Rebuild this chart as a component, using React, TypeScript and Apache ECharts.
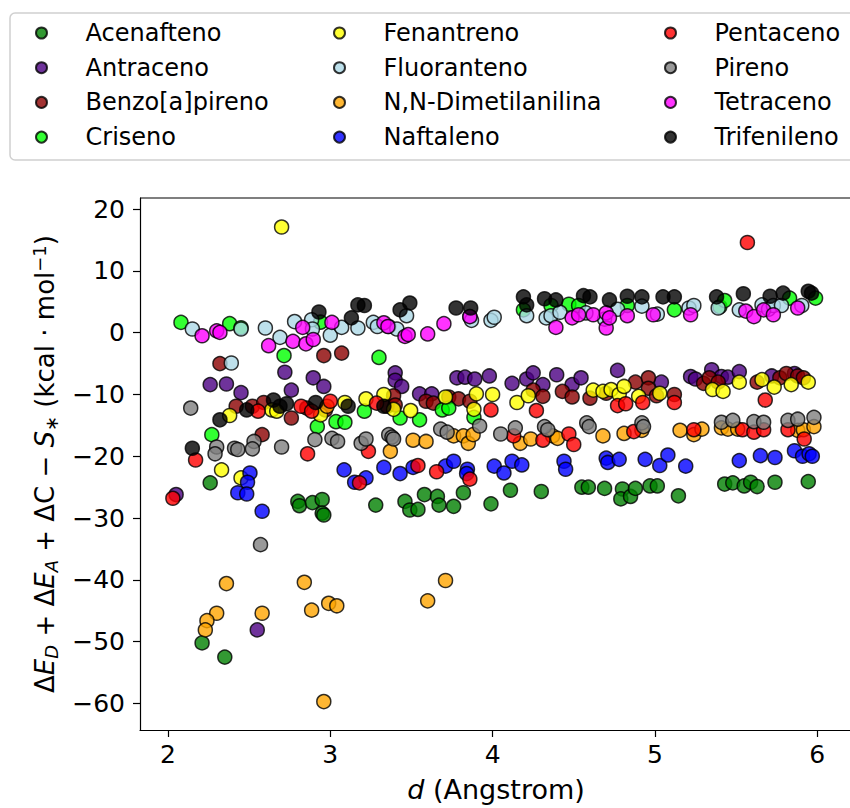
import React, { useEffect, useRef } from "react";
import * as echarts from "echarts";

type P = [number, number];

const seriesNames = [
  "Acenafteno", "Antraceno", "Benzo[a]pireno", "Criseno",
  "Fenantreno", "Fluoranteno", "N,N-Dimetilanilina", "Naftaleno",
  "Pentaceno", "Pireno", "Tetraceno", "Trifenileno",
];

const seriesColors = [
  "green", "indigo", "darkred", "lime",
  "yellow", "lightblue", "orange", "blue",
  "red", "gray", "magenta", "black",
];

const acenafteno: P[] = [
  [2.26, -24.3], [2.80, -27.3], [2.81, -28.0], [2.89, -27.5], [2.95, -27.0], [2.95, -29.2], [2.96, -29.5],
  [3.28, -27.9], [3.46, -27.3], [3.49, -28.7], [3.54, -28.6], [3.58, -26.2], [3.66, -26.5], [3.67, -27.9],
  [3.76, -28.1], [3.82, -25.9], [3.99, -27.7], [4.11, -25.5], [4.30, -25.7], [4.55, -25.0], [4.59, -25.0],
  [4.69, -25.2], [4.80, -25.3], [4.79, -26.9], [4.85, -26.5], [4.88, -25.2], [4.97, -24.8], [5.015, -24.8],
  [5.145, -26.4], [5.43, -24.5], [5.48, -24.3], [5.55, -24.8], [5.59, -24.2], [5.63, -24.9], [5.74, -24.2],
  [5.945, -24.1], [2.21, -50.2], [2.35, -52.5],
];

const antraceno: P[] = [
  [2.05, -26.2], [2.26, -8.4], [2.36, -8.3], [2.45, -9.7], [2.72, -6.4], [2.76, -9.3], [2.895, -7.3],
  [2.96, -8.7], [3.40, -6.5], [3.40, -7.7], [3.44, -8.7], [3.55, -9.9], [3.625, -9.9], [3.78, -7.3],
  [3.83, -7.2], [3.89, -7.5], [3.98, -7.0], [4.12, -8.2], [4.21, -7.5], [4.25, -6.5], [4.31, -8.4],
  [4.395, -6.8], [4.49, -8.4], [4.545, -7.3], [4.77, -6.1], [5.04, -8.0], [5.22, -7.1], [5.25, -7.5],
  [5.35, -6.0], [5.41, -7.1], [5.45, -7.2], [5.52, -6.3], [5.72, -7.0], [5.86, -6.6], [2.55, -48.1],
];

const benzoapireno: P[] = [
  [2.32, -5.0], [2.96, -3.7], [3.07, -3.3], [2.42, -11.9], [2.52, -11.9], [2.59, -11.3], [2.76, -13.8],
  [2.97, -12.5], [2.855, -12.2], [2.58, -16.5], [3.35, -11.9], [3.39, -10.2], [3.40, -11.7], [3.59, -11.1],
  [3.635, -11.4], [3.73, -10.4], [3.79, -10.7], [3.86, -11.1], [4.25, -9.3], [4.31, -10.3], [4.43, -9.5],
  [4.49, -10.4], [4.60, -10.6], [4.70, -9.8], [4.88, -8.0], [4.96, -7.3], [4.96, -9.0], [5.01, -10.2],
  [5.12, -10.0], [5.30, -8.2], [5.335, -7.3], [5.39, -8.0], [5.63, -8.0], [5.77, -7.3], [5.81, -6.6],
  [5.88, -7.0], [5.915, -7.3],
];

const criseno: P[] = [
  [2.08, 1.67], [2.38, 1.46], [2.45, 0.8], [2.715, -3.7], [2.94, 1.7], [3.30, -4.0], [2.27, -16.5],
  [2.92, -15.2], [3.035, -14.4], [3.09, -14.5], [3.21, -12.7], [3.43, -13.8], [3.55, -14.1], [3.69, -12.5],
  [3.73, -12.2], [3.885, -13.7], [4.19, 3.7], [4.36, 4.4], [4.47, 4.6], [4.53, 4.4], [4.83, 4.4],
  [5.12, 3.7], [5.40, 4.2], [5.43, 5.2], [5.83, 5.6], [5.99, 5.6],
];

const fenantreno: P[] = [
  [2.70, 17.1], [2.38, -13.4], [2.64, -12.5], [2.67, -12.7], [2.94, -13.3], [3.09, -11.3], [3.22, -10.7],
  [3.33, -10.0], [3.39, -12.4], [3.495, -12.6], [3.71, -10.4], [3.90, -9.9], [4.00, -10.0], [3.885, -12.4],
  [4.15, -11.3], [4.22, -10.2], [4.62, -9.3], [4.68, -9.5], [4.73, -9.2], [4.78, -10.0], [4.81, -8.7],
  [4.90, -10.3], [5.03, -9.8], [5.355, -9.2], [5.42, -9.5], [5.52, -8.0], [5.66, -7.6], [5.735, -8.8],
  [5.84, -8.4], [5.945, -8.0], [2.33, -22.2], [2.45, -23.5],
];

const fluoranteno: P[] = [
  [2.15, 0.6], [2.45, 0.6], [2.39, -4.9], [2.60, 0.76], [2.69, -0.76], [2.78, 1.8], [2.885, 2.1],
  [2.89, 0.6], [3.0, -0.4], [3.07, 0.86], [3.17, 0.76], [3.265, 1.67], [3.29, 1.0], [3.36, 1.0],
  [3.41, 0.6], [3.47, 2.75], [3.86, 2.6], [3.87, 2.0], [3.99, 2.0], [4.01, 2.5], [4.21, 2.75],
  [4.33, 2.4], [4.36, 2.75], [4.415, 3.3], [4.575, 3.2], [4.69, 2.2], [4.77, 3.8], [4.92, 4.3],
  [5.015, 3.0], [5.21, 4.0], [5.24, 4.4], [5.39, 4.0], [5.52, 3.7], [5.66, 4.5], [5.70, 3.8],
  [5.73, 4.4], [5.78, 4.4], [5.905, 4.4],
];

const dimetilanilina: P[] = [
  [2.98, -11.9], [3.37, -19.2], [3.51, -17.4], [3.59, -17.6], [3.76, -16.7], [3.82, -16.7], [3.85, -17.9],
  [3.88, -16.5], [4.17, -17.9], [4.235, -17.2], [4.37, -16.7], [4.40, -17.1], [4.68, -16.7], [4.81, -16.3],
  [4.92, -15.8], [5.155, -15.8], [5.24, -16.5], [5.29, -15.6], [5.41, -15.4], [5.45, -15.6], [5.51, -15.6],
  [5.88, -15.8], [5.915, -15.7], [5.98, -15.2], [2.36, -40.6], [2.84, -40.4], [3.71, -40.1], [3.60, -43.4],
  [2.30, -45.4], [2.24, -46.6], [2.23, -48.1], [2.58, -45.4], [2.885, -44.9], [2.99, -43.8], [3.04, -44.2],
  [2.96, -59.7],
];

const naftaleno: P[] = [
  [2.505, -22.7], [2.49, -24.2], [2.43, -25.9], [2.485, -26.1], [2.58, -28.9], [3.085, -22.2], [3.15, -24.2],
  [3.22, -23.5], [3.33, -21.8], [3.43, -22.8], [3.51, -21.8], [3.71, -21.6], [3.76, -20.8], [3.845, -22.1],
  [3.84, -22.8], [4.01, -21.6], [4.07, -22.7], [4.12, -20.8], [4.18, -21.4], [4.44, -20.8], [4.45, -22.1],
  [4.70, -20.3], [4.71, -21.0], [4.78, -20.5], [4.94, -20.5], [5.03, -21.5], [5.08, -19.8], [5.19, -21.6],
  [5.52, -20.7], [5.65, -19.9], [5.74, -20.2], [5.86, -19.1], [5.91, -20.0], [5.95, -19.6], [5.97, -20.0],
];

const pentaceno: P[] = [
  [2.03, -26.8], [2.17, -20.6], [2.555, -12.7], [2.82, -11.9], [2.885, -12.7], [3.0, -11.1], [2.86, -19.6],
  [3.235, -19.2], [3.18, -24.3], [3.285, -11.4], [3.54, -21.5], [3.655, -22.5], [3.86, -23.7], [3.99, -12.5],
  [4.13, -16.7], [4.27, -12.6], [4.31, -17.4], [4.47, -16.4], [4.50, -18.1], [4.77, -11.8], [4.82, -11.5],
  [4.87, -16.0], [4.925, -11.3], [5.12, -11.3], [5.24, -15.7], [5.54, -15.7], [5.57, 14.6], [5.61, -16.1],
  [5.67, -15.7], [5.68, -10.9], [5.82, -15.7], [5.92, -17.2],
];

const pireno: P[] = [
  [2.14, -12.2], [2.30, -18.5], [2.29, -19.6], [2.41, -18.7], [2.43, -18.9], [2.53, -17.6], [2.52, -18.8],
  [2.70, -18.5], [2.905, -17.3], [3.01, -17.1], [3.045, -17.6], [3.19, -17.9], [3.22, -17.2], [3.36, -16.5],
  [3.38, -16.9], [3.39, -17.2], [3.68, -15.6], [3.72, -16.1], [3.92, -15.1], [4.05, -16.4], [4.14, -15.4],
  [4.32, -15.2], [4.34, -15.7], [4.58, -14.6], [4.595, -15.2], [4.92, -14.6], [4.93, -15.2], [5.41, -14.5],
  [5.48, -14.2], [5.61, -14.4], [5.67, -14.5], [5.82, -14.2], [5.88, -14.0], [5.98, -13.7], [2.57, -34.3],
];

const tetraceno: P[] = [
  [2.21, -0.5], [2.30, 0.3], [2.32, 0.05], [2.62, -2.1], [2.77, -1.4], [2.83, 0.86], [2.85, -1.8],
  [2.895, -1.1], [3.01, 1.67], [3.33, 1.6], [3.355, 1.0], [3.46, -0.6], [3.48, -0.3], [3.60, -0.2],
  [3.70, 1.46], [3.86, 2.6], [4.39, 0.86], [4.49, 2.4], [4.53, 2.9], [4.62, 2.9], [4.70, 3.2],
  [4.70, 0.76], [4.72, 2.4], [4.83, 2.75], [4.99, 2.9], [5.22, 2.9], [5.56, 3.5], [5.61, 2.6],
  [5.67, 3.7], [5.73, 2.9], [5.88, 4.0],
];

const trifenileno: P[] = [
  [2.15, -18.7], [2.32, -14.1], [2.485, -12.5], [2.65, -10.9], [2.69, -11.9], [2.73, -11.5], [2.91, -11.3],
  [3.11, -11.9], [3.33, -11.9], [2.93, 3.35], [3.13, 2.4], [3.17, 4.5], [3.21, 4.4], [3.43, 3.7],
  [3.49, 4.8], [3.775, 4.0], [3.865, 4.0], [4.19, 5.8], [4.21, 4.5], [4.32, 5.5], [4.39, 5.3],
  [4.56, 6.0], [4.60, 5.8], [4.72, 5.3], [4.83, 5.9], [4.92, 5.8], [5.05, 5.8], [5.12, 5.8],
  [5.38, 5.8], [5.545, 6.3], [5.71, 5.9], [5.79, 6.4], [5.945, 6.7], [5.965, 6.4],
];

const seriesData: P[][] = [
  acenafteno, antraceno, benzoapireno, criseno, fenantreno, fluoranteno,
  dimetilanilina, naftaleno, pentaceno, pireno, tetraceno, trifenileno,
];

const xTicks = [2, 3, 4, 5, 6];
const yTicks = [20, 10, 0, -10, -20, -30, -40, -50, -60];

const FONT = "DejaVu Sans";

export default function App() {
  const ref = useRef<HTMLDivElement>(null);
  useEffect(() => {
    if (!ref.current) return;
    const chart = echarts.init(ref.current, undefined, { renderer: "svg" });
    const legendCols = [0, 1, 2].map((c) => ({
      orient: "vertical",
      left: [35, 333, 664][c],
      top: 21,
      padding: 0,
      itemWidth: 78,
      itemHeight: 11,
      itemGap: 10.7,
      data: seriesNames.slice(c * 4, c * 4 + 4),
      textStyle: { fontFamily: FONT, fontSize: 24, color: "#000", lineHeight: 24 },
    }));
    chart.setOption({
      animation: false,
      backgroundColor: "#fff",
      graphic: [
        {
          type: "rect",
          z: -10,
          shape: { x: 10, y: 13, width: 860, height: 147, r: 5 },
          style: { fill: "#fff", stroke: "#d0d0d0", lineWidth: 1.5 },
        },
        {
          type: "line",
          z: 10,
          shape: { x1: 140, y1: 198, x2: 852, y2: 198 },
          style: { stroke: "#000", lineWidth: 1.2 },
        },
      ],
      legend: legendCols,
      grid: { left: 140, top: 198, right: 8, bottom: 78 },
      xAxis: {
        type: "value",
        min: 1.8275,
        max: 6.2145,
        splitLine: { show: false },
        axisLine: { show: true, onZero: false, lineStyle: { color: "#000", width: 1.2 } },
        axisTick: { show: true, length: 7, lineStyle: { color: "#000", width: 1.2 }, customValues: xTicks },
        axisLabel: {
          customValues: xTicks,
          margin: 12,
          fontFamily: FONT,
          fontSize: 25,
          color: "#000",
          formatter: (v: number) => String(v).replace("-", "\u2212"),
        },
        name: "{i|d} (Angstrom)",
        nameLocation: "middle",
        nameGap: 46,
        nameTextStyle: {
          fontFamily: FONT,
          fontSize: 27,
          color: "#000",
          rich: { i: { fontFamily: FONT, fontSize: 27, fontStyle: "italic", color: "#000" } },
        },
      },
      yAxis: {
        type: "value",
        min: -64.3,
        max: 21.8,
        splitLine: { show: false },
        axisLine: { show: true, onZero: false, lineStyle: { color: "#000", width: 1.2 } },
        axisTick: { show: true, length: 7, lineStyle: { color: "#000", width: 1.2 }, customValues: yTicks },
        axisLabel: {
          customValues: yTicks,
          margin: 15,
          fontFamily: FONT,
          fontSize: 25,
          color: "#000",
          formatter: (v: number) => String(v).replace("-", "\u2212"),
        },
        name:
          "\u0394{i|E}{sub|D} + \u0394{i|E}{sub|A} + \u0394C \u2212 {i|S}{sub|\u2217} (kcal \u00b7 mol{sup|\u22121})",
        nameLocation: "middle",
        nameGap: 80,
        nameTextStyle: {
          fontFamily: FONT,
          fontSize: 26,
          color: "#000",
          rich: {
            i: { fontFamily: FONT, fontSize: 26, fontStyle: "italic", color: "#000" },
            sub: { fontFamily: FONT, fontSize: 18, fontStyle: "italic", color: "#000", verticalAlign: "bottom", padding: [12, 0, 0, 0] },
            sup: { fontFamily: FONT, fontSize: 18, color: "#000", verticalAlign: "top", padding: [0, 0, 12, 0] },
          },
        },
      },
      series: seriesNames.map((name, i) => ({
        name,
        type: "scatter",
        symbol: "circle",
        symbolSize: 14,
        data: seriesData[i],
        itemStyle: { color: seriesColors[i], borderColor: "#000", borderWidth: 1.5, opacity: 0.8 },
        emphasis: { disabled: true },
      })),
    });
    return () => chart.dispose();
  }, []);
  return (
    <div style={{ position: "fixed", left: 0, top: 0, width: 850, height: 808, overflow: "hidden", background: "#fff" }}>
      <div ref={ref} style={{ width: 860, height: 808 }} />
    </div>
  );
}
